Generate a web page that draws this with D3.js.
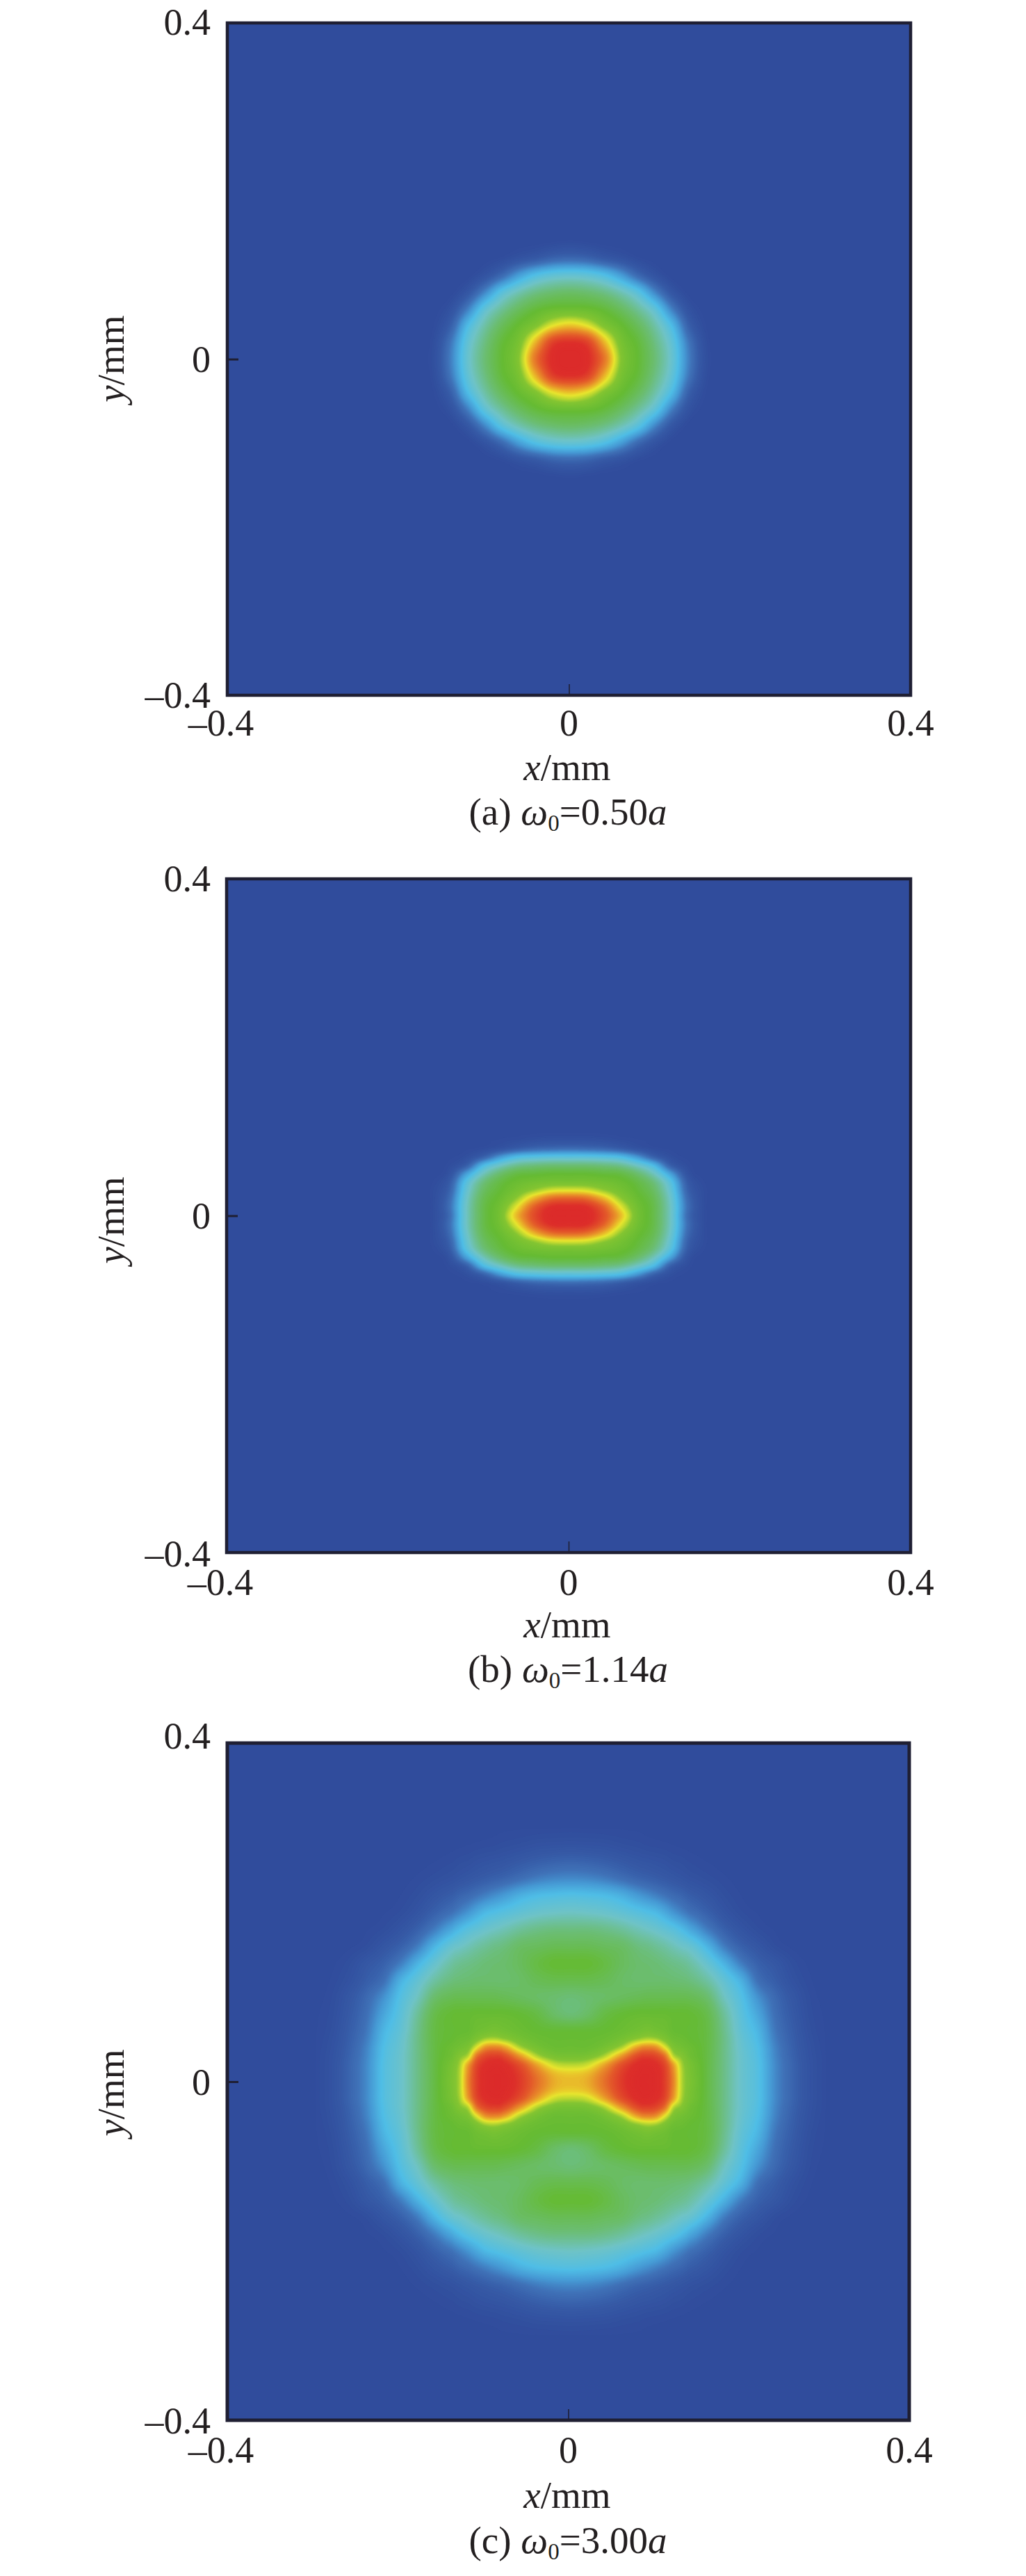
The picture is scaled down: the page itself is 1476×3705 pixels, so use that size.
<!DOCTYPE html>
<html>
<head>
<meta charset="utf-8">
<script src="https://cdn.jsdelivr.net/npm/d3@7"></script>
<style>
  body { margin: 0; background: #fff; }
  text { font-family: "Liberation Serif", serif; fill: #231f20; }
</style>
</head>
<body>
<div id="chart"></div>
<script>
// tick values and labels, same on all three panels
const tickValues = [-0.4, 0, 0.4];
const tickLabels = ['\u20130.4', '0', '0.4'];
const captionLetters = ['(a)', '(b)', '(c)'];
const captionValues = ['0.50', '1.14', '3.00'];

// intensity, upper right quadrant (first row is y=0, first column x=0)
const xsA = [0, .02, .04, .06, .08, .10, .12, .14, .16, .18];
const ysA = [0, .02, .04, .06, .08, .10, .12, .14, .16];
const fieldA = [
  [1.00, .97, .81, .58, .50, .42, .31, .14, .02, 0],
  [.95, .91, .72, .555, .49, .405, .295, .125, .015, 0],
  [.70, .66, .57, .51, .45, .365, .245, .075, .005, 0],
  [.52, .515, .49, .445, .38, .29, .14, .03, 0, 0],
  [.435, .425, .40, .35, .275, .15, .045, 0, 0, 0],
  [.305, .295, .26, .19, .10, .035, 0, 0, 0, 0],
  [.10, .09, .06, .035, .01, 0, 0, 0, 0, 0],
  [.01, .005, 0, 0, 0, 0, 0, 0, 0, 0],
  [0, 0, 0, 0, 0, 0, 0, 0, 0, 0]
];

const xsB = [0, .02, .04, .06, .08, .10, .12, .14, .16, .18];
const ysB = [0, .01, .02, .03, .04, .05, .06, .07, .08, .09, .10, .11];
const fieldB = [
  [1.00, .99, .89, .72, .55, .47, .33, .10, .01, 0],
  [.97, .96, .85, .67, .54, .47, .33, .11, .01, 0],
  [.85, .83, .73, .60, .52, .46, .32, .10, .01, 0],
  [.66, .65, .60, .55, .50, .44, .30, .08, .01, 0],
  [.55, .55, .54, .52, .48, .41, .27, .06, .005, 0],
  [.50, .50, .49, .48, .43, .34, .19, .03, 0, 0],
  [.42, .42, .41, .39, .33, .24, .07, .012, 0, 0],
  [.28, .28, .27, .25, .18, .08, .02, .003, 0, 0],
  [.11, .105, .095, .07, .035, .012, .004, 0, 0, 0],
  [.03, .03, .025, .015, .008, .003, 0, 0, 0, 0],
  [.004, .004, .003, .002, .001, 0, 0, 0, 0, 0],
  [0, 0, 0, 0, 0, 0, 0, 0, 0, 0]
];

const xsC = [0, .02, .04, .06, .08, .09, .10, .11, .12, .13, .14, .16, .18, .20, .22, .24, .26, .28, .30];
const ysC = [0, .01, .02, .03, .04, .05, .06, .08, .10, .12, .14, .16, .18, .20, .22, .24, .26, .28, .30];
const fieldC = [
  [.71, .73, .82, .93, 1.00, 1.00, .98, .92, .79, .62, .56, .48, .40, .32, .265, .16, .09, .035, .008],
  [.69, .71, .80, .92, .99, 1.00, .98, .92, .78, .62, .555, .48, .40, .32, .265, .16, .09, .035, .008],
  [.62, .64, .74, .88, .97, .98, .96, .90, .75, .61, .55, .48, .40, .32, .265, .16, .09, .035, .008],
  [.55, .56, .62, .76, .90, .92, .90, .82, .63, .58, .53, .48, .40, .32, .26, .155, .085, .033, .008],
  [.52, .52, .55, .62, .76, .79, .77, .67, .57, .54, .52, .48, .40, .315, .255, .15, .08, .03, .007],
  [.51, .51, .52, .55, .60, .62, .61, .57, .53, .52, .505, .48, .40, .31, .245, .14, .075, .027, .006],
  [.50, .50, .505, .52, .54, .55, .54, .53, .51, .505, .50, .48, .395, .30, .235, .13, .07, .023, .005],
  [.42, .44, .48, .50, .51, .51, .51, .51, .505, .505, .50, .47, .38, .285, .205, .115, .06, .018, .004],
  [.42, .43, .44, .45, .46, .465, .465, .465, .465, .465, .46, .43, .34, .265, .17, .10, .05, .014, .002],
  [.47, .47, .46, .44, .43, .43, .43, .43, .425, .42, .41, .37, .30, .225, .115, .07, .03, .008, 0],
  [.50, .50, .48, .45, .43, .425, .42, .41, .40, .39, .37, .31, .23, .14, .08, .05, .018, .004, 0],
  [.46, .46, .45, .44, .41, .40, .385, .37, .35, .33, .31, .235, .14, .08, .045, .015, .004, 0, 0],
  [.41, .41, .40, .38, .35, .335, .32, .30, .28, .25, .21, .14, .08, .04, .015, .005, 0, 0, 0],
  [.335, .33, .32, .30, .275, .26, .245, .215, .18, .15, .12, .08, .04, .015, .005, 0, 0, 0, 0],
  [.265, .26, .25, .225, .185, .165, .145, .125, .105, .09, .07, .045, .02, .006, 0, 0, 0, 0, 0],
  [.16, .155, .14, .115, .09, .08, .07, .06, .05, .04, .03, .018, .008, .002, 0, 0, 0, 0, 0],
  [.09, .085, .075, .06, .045, .04, .035, .03, .022, .018, .012, .006, .002, 0, 0, 0, 0, 0, 0],
  [.035, .033, .03, .022, .016, .012, .01, .008, .006, .004, .003, .001, 0, 0, 0, 0, 0, 0, 0],
  [.008, .007, .006, .005, .004, .003, .002, .001, 0, 0, 0, 0, 0, 0, 0, 0, 0, 0, 0]
];

// colour bar of the plot
const colorStops = [0, .06, .12, .18, .25, .33, .42, .50, .58, .62, .66, .70, .76, .85, .95, 1];
const colorRange = ['#304c9c', '#365aa6', '#3f72b8', '#4699d4', '#4fbde6', '#6fc3c6', '#6bbd72', '#65bb33',
                    '#84c532', '#bcd730', '#e8e52e', '#e9c02a', '#e8902a', '#e35a2a', '#dd2f2a', '#dc2a2a'];

const width = 1476, height = 3705;

// page layout of the three panels
const layouts = [
  { left: 327, right: 1310, top: 33, bottom: 1000, xs: xsA, ys: ysA, field: fieldA, cx: .001,
    topLabel: 17, zeroLabel: 18, bottomLabel: 18, yName: 516, tickY: 1058, nameY: 1122, capY: 1186 },
  { left: 326, right: 1310, top: 1264, bottom: 2233, xs: xsB, ys: ysB, field: fieldB, cx: 0,
    topLabel: 18, zeroLabel: 18, bottomLabel: 20, yName: 1755, tickY: 2294, nameY: 2355, capY: 2419 },
  { left: 327, right: 1308, top: 2507, bottom: 3481, xs: xsC, ys: ysC, field: fieldC, cx: .003,
    topLabel: 8, zeroLabel: 19, bottomLabel: 19, yName: 3010, tickY: 3542, nameY: 3607, capY: 3672 }
];

const color = d3.scaleLinear().domain(colorStops).range(colorRange).clamp(true);
const levels = d3.range(0.006, 1.001, 0.007);
const cells = 320;
const domain = 0.4;

// Catmull-Rom between grid values, so the few read values give a smooth picture
const cr = (a, b, c, d, t) =>
  0.5 * (2 * b + (c - a) * t + (2 * a - 5 * b + 4 * c - d) * t * t + (3 * b - a - 3 * c + d) * t * t * t);

const sampler = (xs, ys, field) => {
  const get = (i, j) => {
    i = Math.abs(i); j = Math.abs(j);   // mirrored over the axes
    if (i >= xs.length || j >= ys.length) return 0;
    return field[j][i];
  };
  return (x, y) => {
    const ax = Math.abs(x), ay = Math.abs(y);
    const i = d3.bisectRight(xs, ax) - 1, j = d3.bisectRight(ys, ay) - 1;
    if (i >= xs.length - 1 || j >= ys.length - 1) return 0;
    const t = (ax - xs[i]) / (xs[i + 1] - xs[i]), s = (ay - ys[j]) / (ys[j + 1] - ys[j]);
    const row = k => cr(get(i - 1, k), get(i, k), get(i + 1, k), get(i + 2, k), t);
    const val = cr(row(j - 1), row(j), row(j + 1), row(j + 2), s);
    return Math.max(0, Math.min(1, val));
  };
};

const svg = d3.select('#chart').append('svg')
  .attr('width', width)
  .attr('height', height)
  .style('display', 'block');

layouts.forEach((p, n) => {
  const g = svg.append('g').attr('class', 'panel');
  const x = d3.scaleLinear().domain([-domain, domain]).range([p.left, p.right]);
  const y = d3.scaleLinear().domain([-domain, domain]).range([p.bottom, p.top]);

  const clipId = 'clip' + n;
  g.append('clipPath').attr('id', clipId).append('rect')
    .attr('x', p.left).attr('y', p.top)
    .attr('width', p.right - p.left).attr('height', p.bottom - p.top);

  // field on a fine grid, then filled contours
  const sample = sampler(p.xs, p.ys, p.field);
  const step = 2 * domain / cells;
  const values = new Float64Array(cells * cells);
  for (let j = 0; j < cells; j++) {
    for (let i = 0; i < cells; i++) {
      values[j * cells + i] = sample(-domain + (i + 0.5) * step - p.cx, domain - (j + 0.5) * step);
    }
  }
  const contours = d3.contours().size([cells, cells]).thresholds(levels)(values);
  const path = d3.geoPath(d3.geoTransform({
    point(gx, gy) {
      this.stream.point(x(-domain + gx * step), y(domain - gy * step));
    }
  }));

  const heat = g.append('g').attr('clip-path', `url(#${clipId})`);
  heat.append('rect')
    .attr('x', p.left).attr('y', p.top)
    .attr('width', p.right - p.left).attr('height', p.bottom - p.top)
    .attr('fill', color(0));
  heat.selectAll('path')
    .data(contours)
    .enter().append('path')
    .attr('d', path)
    .attr('fill', d => color(d.value));

  // frame
  g.append('rect')
    .attr('x', p.left).attr('y', p.top)
    .attr('width', p.right - p.left).attr('height', p.bottom - p.top)
    .attr('fill', 'none')
    .attr('stroke', '#1f1f33')
    .attr('stroke-width', n == 2 ? 5 : 4.5);

  // axes
  const fmt = v => tickLabels[tickValues.indexOf(v)];
  const xAxis = g.append('g')
    .attr('transform', `translate(0,${p.bottom})`)
    .call(d3.axisBottom(x).tickValues([0]).tickSize(-16).tickFormat(''));
  xAxis.select('.domain').remove();
  xAxis.selectAll('line').attr('stroke', '#1f1f33').attr('stroke-width', 1.6);

  const yAxis = g.append('g')
    .attr('transform', `translate(${p.left},0)`)
    .call(d3.axisLeft(y).tickValues([0]).tickSize(-16).tickFormat(''));
  yAxis.select('.domain').remove();
  yAxis.selectAll('line').attr('stroke', '#1f1f33').attr('stroke-width', 3);

  g.append('g').selectAll('text')
    .data(tickValues)
    .enter().append('text')
    .attr('x', d => x(d) + (d < 0 ? -9 : 0))
    .attr('y', p.tickY)
    .attr('text-anchor', 'middle')
    .attr('font-size', 54)
    .text(fmt);

  g.append('g').selectAll('text')
    .data(tickValues)
    .enter().append('text')
    .attr('x', 303)
    .attr('y', d => y(d) + (d > 0 ? p.topLabel : d < 0 ? p.bottomLabel : p.zeroLabel))
    .attr('text-anchor', 'end')
    .attr('font-size', 54)
    .text(fmt);

  // axis names
  const xName = g.append('text')
    .attr('x', 816).attr('y', p.nameY)
    .attr('text-anchor', 'middle')
    .attr('font-size', 55);
  xName.append('tspan').attr('font-style', 'italic').text('x');
  xName.append('tspan').text('/mm');

  const yName = g.append('text')
    .attr('transform', `translate(178,${p.yName}) rotate(-90)`)
    .attr('text-anchor', 'middle')
    .attr('font-size', 55);
  yName.append('tspan').attr('font-style', 'italic').text('y');
  yName.append('tspan').text('/mm');

  // caption
  const cap = g.append('text')
    .attr('x', 817).attr('y', p.capY)
    .attr('text-anchor', 'middle')
    .attr('font-size', 55);
  cap.append('tspan').text(captionLetters[n] + ' ');
  cap.append('tspan').attr('font-style', 'italic').text('\u03c9');
  cap.append('tspan').attr('font-size', 33).attr('dy', 9).text('0');
  cap.append('tspan').attr('dy', -9).text('=' + captionValues[n]);
  cap.append('tspan').attr('font-style', 'italic').text('a');
});
</script>
</body>
</html>
